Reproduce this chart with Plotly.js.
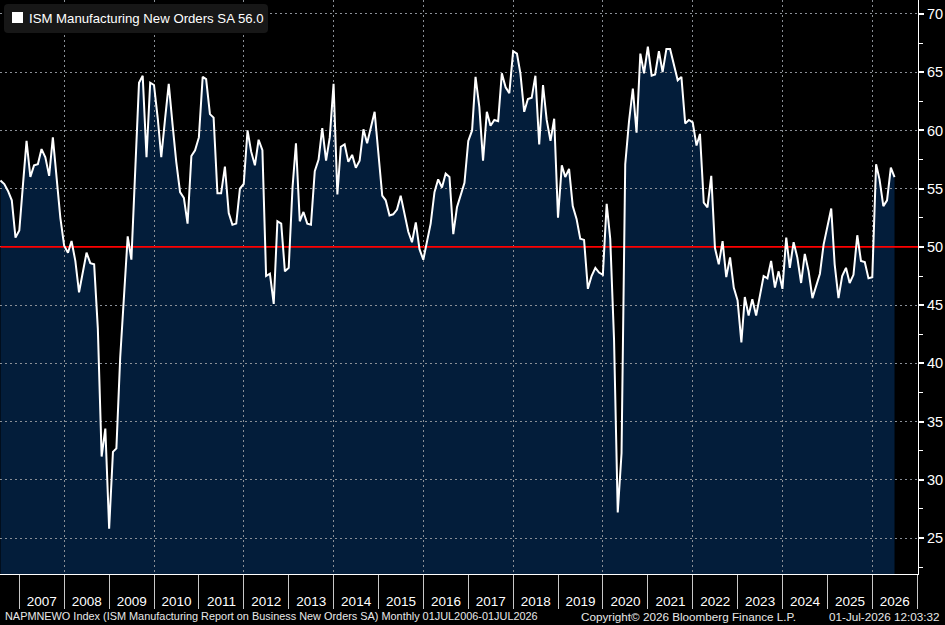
<!DOCTYPE html>
<html>
<head>
<meta charset="utf-8">
<script src="https://cdn.plot.ly/plotly-3.0.1.min.js"></script>
<style>
  html, body { margin: 0; padding: 0; background: #000; }
  #chart { width: 945px; height: 625px; }
</style>
</head>
<body>
<div id="chart"></div>
<script>
// ISM Manufacturing New Orders SA, monthly, July 2006 - June 2026 (one array per calendar year)
const no2006 = [55.7, 55.4, 54.8, 54.0, 50.8, 51.4];
const no2007 = [55.5, 59.1, 56.0, 57.0, 57.1, 58.4, 57.7, 56.1, 59.4, 55.8, 52.5, 50.1];
const no2008 = [49.5, 50.5, 48.8, 46.1, 47.8, 49.5, 48.6, 48.5, 43.0, 32.0, 34.4, 25.8];
const no2009 = [32.4, 32.7, 40.5, 46.0, 50.9, 48.9, 56.5, 64.1, 64.7, 57.7, 64.1, 63.9];
const no2010 = [61.0, 57.7, 61.0, 64.0, 60.5, 57.3, 54.7, 54.2, 52.0, 57.8, 58.3, 59.4];
const no2011 = [64.6, 64.4, 61.4, 61.1, 54.6, 54.6, 56.9, 52.9, 51.9, 52.0, 55.0, 55.4];
const no2012 = [60.0, 58.2, 57.0, 59.2, 58.3, 47.5, 47.7, 45.1, 52.2, 52.0, 47.9, 48.2];
const no2013 = [55.1, 58.9, 52.2, 53.0, 52.0, 51.9, 56.5, 57.5, 60.2, 57.4, 59.4, 64.0];
const no2014 = [54.5, 58.6, 58.8, 57.3, 57.9, 56.8, 57.4, 60.1, 58.9, 60.2, 61.6, 58.0];
const no2015 = [54.4, 54.0, 52.7, 52.8, 53.2, 54.4, 52.8, 51.3, 50.4, 52.1, 49.8, 48.9];
const no2016 = [50.5, 52.0, 54.7, 55.8, 55.1, 56.3, 56.0, 51.1, 53.4, 54.4, 55.5, 59.1];
const no2017 = [60.0, 64.6, 62.0, 57.4, 61.6, 60.4, 60.9, 60.8, 64.9, 63.7, 63.2, 66.8];
const no2018 = [66.6, 64.9, 61.6, 62.7, 62.8, 64.7, 58.8, 63.9, 60.9, 59.1, 61.0, 52.5];
const no2019 = [57.0, 56.0, 56.7, 53.5, 52.4, 50.7, 50.6, 46.4, 47.5, 48.2, 47.8, 47.6];
const no2020 = [53.7, 50.7, 42.0, 27.2, 32.3, 57.1, 60.8, 63.6, 59.8, 66.6, 64.9, 67.2];
const no2021 = [64.7, 64.8, 66.8, 65.0, 67.0, 67.0, 65.7, 64.3, 64.6, 60.6, 60.9, 60.7];
const no2022 = [58.7, 59.7, 53.8, 53.4, 56.1, 49.9, 48.5, 50.5, 47.4, 49.1, 46.5, 45.4];
const no2023 = [41.8, 45.7, 44.1, 45.5, 44.1, 45.8, 47.5, 47.3, 48.8, 46.5, 47.9, 46.4];
const no2024 = [50.8, 48.2, 50.4, 49.1, 46.9, 49.4, 47.9, 45.6, 46.6, 47.7, 50.2, 51.7];
const no2025 = [53.3, 48.5, 45.6, 47.5, 48.2, 46.9, 47.6, 51.0, 48.8, 48.7, 47.3, 47.4];
const no2026 = [57.1, 55.8, 53.5, 54.0, 56.8, 56.0];

const seriesName = 'ISM Manufacturing New Orders SA';
const threshold = 50;
const footerLeft = 'NAPMNEWO Index (ISM Manufacturing Report on Business New Orders SA) Monthly 01JUL2006-01JUL2026';
const footerMid = 'Copyright\u00A9 2026 Bloomberg Finance L.P.';
const footerRight = '01-Jul-2026 12:03:32';

const values = [].concat(no2006, no2007, no2008, no2009, no2010, no2011, no2012,
  no2013, no2014, no2015, no2016, no2017, no2018, no2019, no2020, no2021,
  no2022, no2023, no2024, no2025, no2026);

// each observation sits at the end of its month
const dates = values.map((_, i) => {
  const d = new Date(Date.UTC(2006, 6 + i + 1, 0));
  return d.toISOString().slice(0, 10);
});

const FONT = '"Liberation Sans Narrow", "Liberation Sans", Arial, sans-serif';
const X_RANGE = ['2006-07-27', '2027-01-07'];
const Y_RANGE = [21.91, 71.2];
const GRID = '#8a8f96';

// plot area in pixels (for placing the key box)
const PW = 918, PH = 574;
const px = x => x / PW;
const py = y => 1 - y / PH;
function roundRect(x0, y0, x1, y1, r) {
  return `M ${px(x0 + r)} ${py(y0)} L ${px(x1 - r)} ${py(y0)} Q ${px(x1)} ${py(y0)} ${px(x1)} ${py(y0 + r)} ` +
         `L ${px(x1)} ${py(y1 - r)} Q ${px(x1)} ${py(y1)} ${px(x1 - r)} ${py(y1)} ` +
         `L ${px(x0 + r)} ${py(y1)} Q ${px(x0)} ${py(y1)} ${px(x0)} ${py(y1 - r)} ` +
         `L ${px(x0)} ${py(y0 + r)} Q ${px(x0)} ${py(y0)} ${px(x0 + r)} ${py(y0)} Z`;
}

const area = {
  type: 'scatter', mode: 'lines', x: dates, y: values,
  xaxis: 'x', yaxis: 'y',
  fill: 'tozeroy', fillcolor: '#031d3a',
  line: { width: 0, color: '#031d3a' },
  hoverinfo: 'skip'
};
// 50 = expansion / contraction threshold, drawn above the grid and below the series line
const thresholdLine = {
  type: 'scatter', mode: 'lines', x: [dates[0], X_RANGE[1]], y: [threshold, threshold],
  xaxis: 'x2', yaxis: 'y2', cliponaxis: true,
  line: { width: 1.6, color: '#ff0000' },
  hoverinfo: 'skip'
};
const line = {
  type: 'scatter', mode: 'lines', x: dates, y: values,
  xaxis: 'x2', yaxis: 'y2',
  line: { width: 2, color: '#ffffff' },
  hoverinfo: 'skip'
};

const last = values[values.length - 1];

const layout = {
  width: 945, height: 625,
  paper_bgcolor: '#000000',
  plot_bgcolor: 'rgba(0,0,0,0)',
  margin: { l: 0, r: 27, t: 0, b: 51, pad: 0 },
  showlegend: false,
  font: { family: FONT, color: '#ffffff' },
  // lower subplot: filled area and the year labels
  xaxis: {
    type: 'date', range: X_RANGE, domain: [0, 1], anchor: 'y',
    showgrid: false, zeroline: false, showline: false,
    ticks: '', dtick: 'M12', tick0: '2007-01-01', tickformat: '%Y',
    ticklabelmode: 'period', ticklabelstandoff: 17,
    tickfont: { family: FONT, size: 13.5, color: '#ffffff' }
  },
  yaxis: {
    range: Y_RANGE, domain: [0, 1], anchor: 'x',
    visible: false, showgrid: false, zeroline: false
  },
  // upper subplot: grid, series line, axes
  xaxis2: {
    type: 'date', range: X_RANGE, domain: [0, 1], anchor: 'y2',
    showgrid: true, gridcolor: GRID, griddash: '2px,3px', gridwidth: 1,
    dtick: 'M24', tick0: '2006-01-01',
    ticks: 'outside', ticklen: 34, tickwidth: 1, tickcolor: '#c8c8c8',
    minor: { dtick: 'M12', tick0: '2007-01-01', ticks: 'outside', ticklen: 34,
             tickwidth: 1, tickcolor: '#c8c8c8', showgrid: false },
    showticklabels: false, zeroline: false,
    showline: true, linecolor: '#ffffff', linewidth: 1
  },
  yaxis2: {
    range: Y_RANGE, domain: [0, 1], anchor: 'x2', side: 'right',
    showgrid: true, gridcolor: GRID, griddash: '2px,3px', gridwidth: 1,
    dtick: 5, tick0: 0,
    ticks: 'outside', ticklen: 5, tickwidth: 2, tickcolor: '#ffffff',
    minor: { dtick: 2.5, tick0: 0, ticks: 'outside', ticklen: 4, tickwidth: 1,
             tickcolor: '#ffffff', showgrid: false },
    showline: true, linecolor: '#ffffff', linewidth: 1, zeroline: false,
    tickfont: { family: FONT, size: 14.5, color: '#ffffff' }
  },
  shapes: [
    { type: 'path', xref: 'paper', yref: 'paper', path: roundRect(4, 4, 268, 33, 4),
      fillcolor: '#171717', line: { width: 0 }, layer: 'above' },
    { type: 'rect', xref: 'paper', yref: 'paper', x0: px(12), x1: px(23), y0: py(12), y1: py(23),
      fillcolor: '#ffffff', line: { width: 0 }, layer: 'above' }
  ],
  annotations: [
    { xref: 'paper', yref: 'paper', x: px(27), y: py(18.5), xanchor: 'left', yanchor: 'middle',
      text: `${seriesName} ${last.toFixed(1)}`, showarrow: false,
      font: { family: FONT, size: 13.2, color: '#ffffff' } },
    { xref: 'paper', yref: 'paper', x: px(3), y: py(616), xanchor: 'left', yanchor: 'middle',
      text: footerLeft, showarrow: false, font: { family: FONT, size: 10.9, color: '#e8e8e8' } },
    { xref: 'paper', yref: 'paper', x: px(688), y: py(616), xanchor: 'center', yanchor: 'middle',
      text: footerMid, showarrow: false, font: { family: FONT, size: 11.7, color: '#e8e8e8' } },
    { xref: 'paper', yref: 'paper', x: px(941), y: py(616), xanchor: 'right', yanchor: 'middle',
      text: footerRight, showarrow: false, font: { family: FONT, size: 11.7, color: '#e8e8e8' } }
  ]
};

Plotly.newPlot('chart', [area, thresholdLine, line], layout, { staticPlot: true, displayModeBar: false });
</script>
</body>
</html>
